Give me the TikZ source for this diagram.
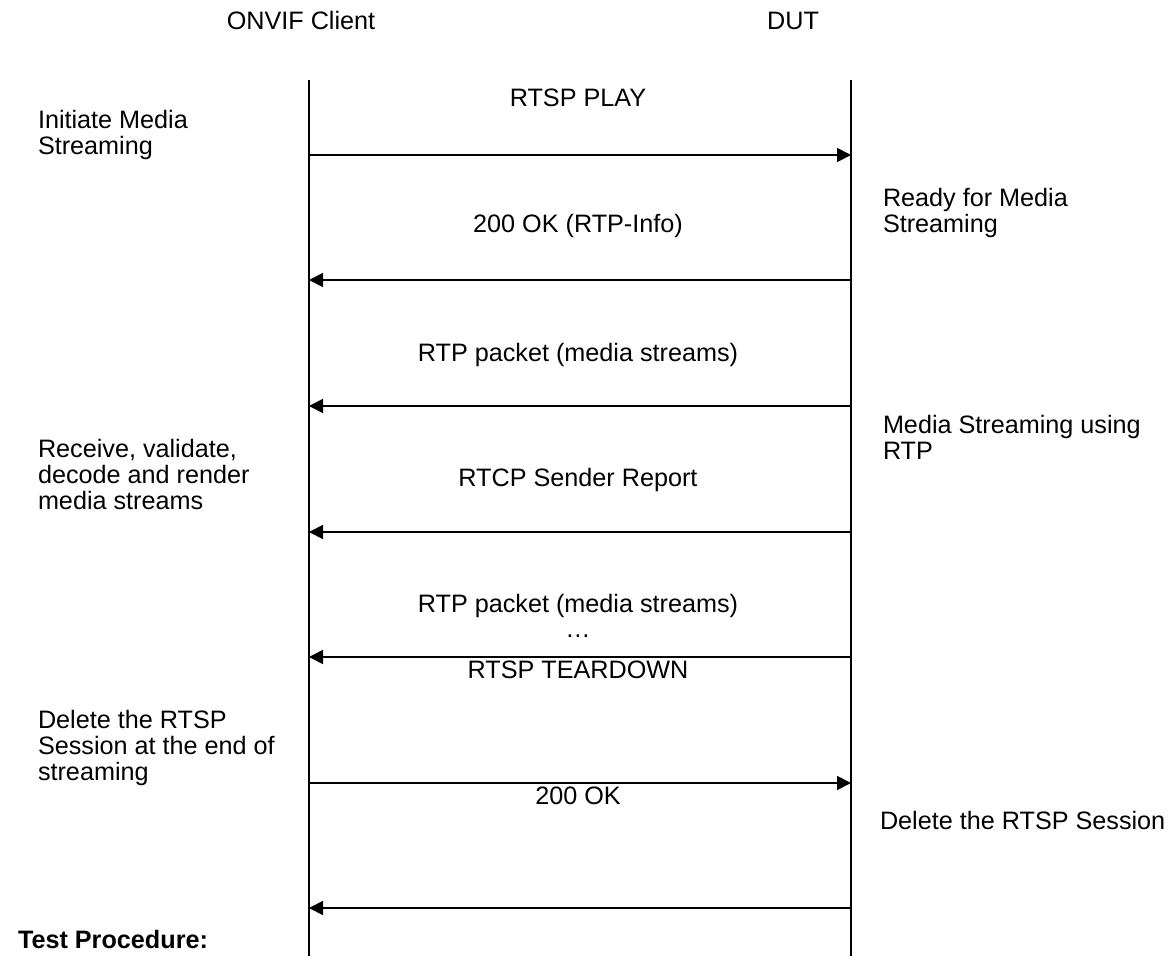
\documentclass[tikz,border=0pt]{standalone}
\usepackage{fontspec}
\setmainfont{Liberation Sans}
\usetikzlibrary{arrows.meta}
\begin{document}
\begin{tikzpicture}[x=1pt,y=-1pt,
  every node/.style={inner sep=0pt,outer sep=0pt,font=\fontsize{25.2}{25.8}\selectfont},
  lifeline/.style={line width=1.4pt,black},
  msg/.style={line width=1.8pt,-{Triangle[length=14pt,width=14pt]}},
  msglabel/.style={anchor=base},
  lnote/.style={anchor=base west,align=left},
  rnote/.style={anchor=base west,align=left}]
\useasboundingbox (0,0) rectangle (1168,956);
% headers
\node[anchor=base] (hc) at (301,29) {ONVIF Client};
\node[anchor=base] (hd) at (793,29) {DUT};
% lifelines
\coordinate (lt) at (309,80);
\coordinate (lb) at (309,956);
\coordinate (rt) at (851,80);
\coordinate (rb) at (851,956);
\draw[lifeline] (lt) -- (lb);
\draw[lifeline] (rt) -- (rb);
% message endpoints
\foreach \n/\y in {1/155,2/280,3/406,4/532,5/657,6/783,7/908}{
  \coordinate (L\n) at (309,\y);
  \coordinate (R\n) at (851,\y);
}
\draw[msg] (L1) -- (R1);
\draw[msg] (R2) -- (L2);
\draw[msg] (R3) -- (L3);
\draw[msg] (R4) -- (L4);
\draw[msg] (R5) -- (L5);
\draw[msg] (L6) -- (R6);
\draw[msg] (R7) -- (L7);
% message labels
\node[msglabel] (m1) at (578,106) {RTSP PLAY};
\node[msglabel] (m2) at (578,232) {200 OK (RTP-Info)};
\node[msglabel] (m3) at (578,361) {RTP packet (media streams)};
\node[msglabel] (m4) at (578,486) {RTCP Sender Report};
\node[msglabel] (m5) at (578,612) {RTP packet (media streams)};
\node[msglabel] (m5b) at (578,637) {…};
\node[msglabel] (m6) at (578,678) {RTSP TEARDOWN};
\node[msglabel] (m7) at (578,804) {200 OK};
% left notes (base = last line)
\node[lnote] (a1) at (38,154) {Initiate Media\\Streaming};
\node[lnote] (a2) at (38,509) {Receive, validate,\\decode and render\\media streams};
\node[lnote] (a3) at (38,780) {Delete the RTSP\\Session at the end of\\streaming};
% right notes
\node[rnote] (b1) at (883,232) {Ready for Media\\Streaming};
\node[rnote] (b2) at (883,459) {Media Streaming using\\RTP};
\node[rnote] (b3) at (880,829) {Delete the RTSP Session};
% footer
\node[anchor=base west,font=\fontsize{25.2}{25.8}\selectfont\bfseries] (tp) at (18,948) {Test Procedure:};
\end{tikzpicture}
\end{document}
